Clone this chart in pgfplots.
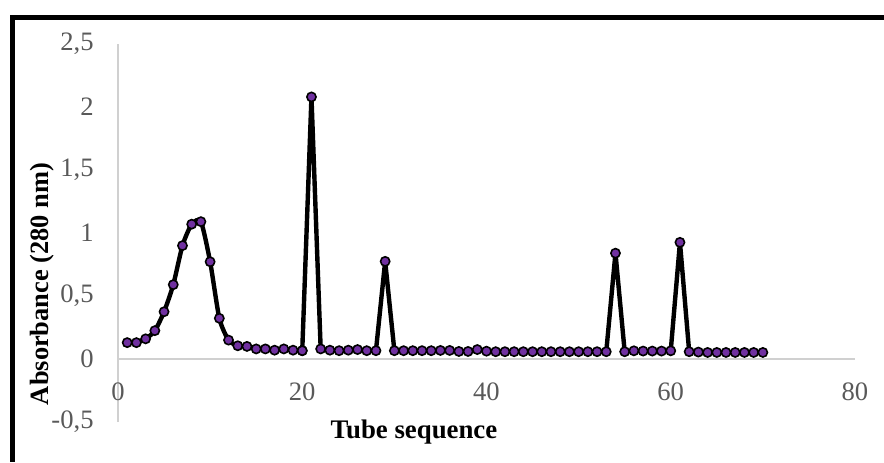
\documentclass[border=0pt]{standalone}
\usepackage{fontspec}
\setmainfont{Liberation Serif}
\usepackage{pgfplots}
\pgfplotsset{compat=1.18}
\definecolor{mpurple}{HTML}{7030A0}
\definecolor{tickgrey}{HTML}{595959}
\definecolor{axgrey}{HTML}{D0D0D0}
\pgfplotstableread{
x y
1 0.13
2 0.13
3 0.16
4 0.225
5 0.375
6 0.59
7 0.90
8 1.07
9 1.09
10 0.772
11 0.323
12 0.15
13 0.105
14 0.10
15 0.08
16 0.08
17 0.07
18 0.08
19 0.07
20 0.066
}\peakA
\pgfplotstableread{
x y
20 0.066
21 2.08
22 0.08
23 0.07
24 0.066
25 0.07
26 0.075
27 0.066
28 0.066
29 0.775
30 0.066
31 0.066
32 0.066
33 0.066
34 0.066
35 0.068
36 0.068
37 0.06
38 0.06
39 0.075
40 0.062
41 0.058
42 0.058
43 0.058
44 0.058
45 0.058
46 0.058
47 0.058
48 0.058
49 0.058
50 0.058
51 0.058
52 0.058
53 0.058
54 0.84
55 0.058
56 0.065
57 0.063
58 0.063
59 0.063
60 0.065
61 0.926
62 0.058
63 0.055
64 0.052
65 0.052
66 0.052
67 0.052
68 0.052
69 0.052
70 0.052
}\rest
\begin{document}
\begin{tikzpicture}[x=1pt,y=1pt]
\path[use as bounding box] (0,0) rectangle (442,231);
\draw[line width=2.5pt] (5,222.25) -- (442,222.25);
\draw[line width=2.5pt] (6.25,223.5) -- (6.25,0);
\begin{axis}[
  at={(59pt,20pt)}, anchor=south west,
  scale only axis, width=368.5pt, height=189pt,
  xmin=0, xmax=80, ymin=-0.5, ymax=2.5,
  axis x line=middle, axis y line=left,
  hide obscured x ticks=false, hide obscured y ticks=false,
  axis line style={draw=axgrey, line width=1pt, -},
  major tick length=0pt,
  xtick={0,20,40,60,80},
  xticklabels={0,20,40,60,80},
  ytick={-0.5,0,0.5,1,1.5,2,2.5},
  yticklabels={{-0,5},{0},{0,5},{1},{1,5},{2},{2,5}},
  tick label style={font=\fontsize{13.3}{14}\selectfont, text=tickgrey},
  xticklabel style={anchor=center, yshift=-16.5pt},
  yticklabel style={anchor=east, inner sep=0pt, xshift=-12pt},
  clip=false,
]
\addplot[black, line width=2.2pt, smooth, tension=0.4, no marks] table[x=x,y=y] {\peakA};
\addplot[black, line width=2.2pt, no marks, line join=round] table[x=x,y=y] {\rest};
\addplot[only marks, mark=*, mark size=2.3pt, mark options={fill=mpurple, draw=black, line width=0.8pt}] table[x=x,y=y] {\peakA};
\addplot[only marks, mark=*, mark size=2.3pt, mark options={fill=mpurple, draw=black, line width=0.8pt}] table[x=x,y=y] {\rest};
\end{axis}
\node[font=\fontsize{13.4}{15}\selectfont\bfseries] at (207,15) {Tube sequence};
\node[font=\fontsize{13.2}{15}\selectfont\bfseries, rotate=90] at (21,89) {Absorbance (280 nm)};
\end{tikzpicture}
\end{document}
